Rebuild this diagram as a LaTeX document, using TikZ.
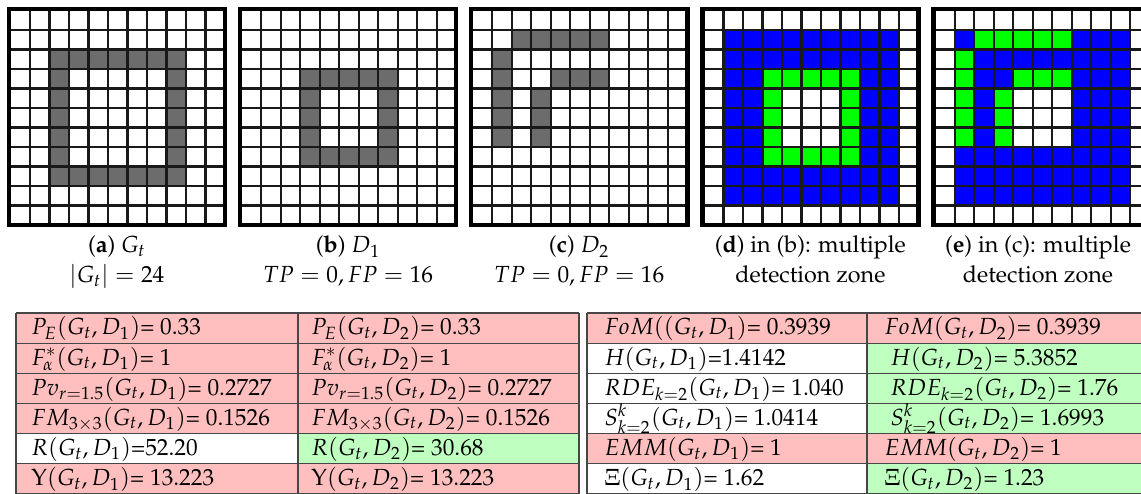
\documentclass[tikz,border=0pt]{standalone}
\usepackage[T1]{fontenc}
\usepackage{mathpazo}
\definecolor{gcell}{RGB}{108,108,108}
\definecolor{pinkc}{RGB}{255,191,191}
\definecolor{greenc}{RGB}{191,255,191}
\definecolor{zblue}{RGB}{0,0,255}
\definecolor{zgreen}{RGB}{0,255,0}
\definecolor{tline}{RGB}{70,70,70}
\tikzset{
  cellline/.style={draw=black!90, line width=0.95pt},
  gridborder/.style={draw=black, line width=1.9pt},
  captxt/.style={font=\normalsize, anchor=base, inner sep=0pt},
  tabtxt/.style={anchor=base west, inner sep=0pt},
  tabline/.style={draw=tline, line width=0.5pt},
}
\newcommand{\gfill}[6]{\fill[#6] ({10.5+19.5*(#3)+231.15*(#1)},{10.5+19.5*(#2)}) rectangle ({10.5+19.5*(#5+1)+231.15*(#1)},{10.5+19.5*(#4+1)});}
\newcommand{\rowtop}[1]{313+30.15*(#1)}
\begin{document}
\begin{tikzpicture}[x=0.429pt,y=-0.429pt]
\useasboundingbox (0,0) rectangle (1141,494);
\fill[white] (0,0) rectangle (1141,494);
% grid (a)
\gfill{0}{2}{2}{8}{8}{gcell}
\gfill{0}{3}{3}{7}{7}{white}
% grid (b)
\gfill{1}{3}{3}{7}{7}{gcell}
\gfill{1}{4}{4}{6}{6}{white}
% grid (c)
\gfill{2}{1}{2}{1}{6}{gcell}
\gfill{2}{2}{1}{6}{1}{gcell}
\gfill{2}{3}{4}{3}{6}{gcell}
\gfill{2}{4}{3}{6}{3}{gcell}
% grid (d)
\gfill{3}{1}{1}{9}{9}{zblue}
\gfill{3}{3}{3}{7}{7}{zgreen}
\gfill{3}{4}{4}{6}{6}{white}
% grid (e)
\gfill{4}{1}{1}{9}{9}{zblue}
\gfill{4}{1}{2}{1}{6}{zgreen}
\gfill{4}{2}{1}{6}{1}{zgreen}
\gfill{4}{3}{4}{3}{6}{zgreen}
\gfill{4}{4}{3}{6}{3}{zgreen}
\gfill{4}{4}{4}{6}{6}{white}
% grid lines and borders
\foreach \g in {0,...,4}{
  \pgfmathsetmacro\off{231.15*\g}
  \foreach \k in {1,...,10}{
    \draw[cellline] ({10.5+19.5*\k+\off},10.5) -- ({10.5+19.5*\k+\off},225);
    \draw[cellline] ({10.5+\off},{10.5+19.5*\k}) -- ({225+\off},{10.5+19.5*\k});
  }
  \draw[gridborder] ({8.85+\off},8.85) rectangle ({225+\off},225);
}
% captions
\node[captxt] (capa1) at (116.9,253) {(\textbf{a}) $G_t$};
\node[captxt] (capa2) at (116.9,283) {$|G_t| = 24$};
\node[captxt] (capb1) at (348.05,253) {(\textbf{b}) $D_1$};
\node[captxt] (capb2) at (348.05,283) {$TP = 0, FP = 16$};
\node[captxt] (capc1) at (579.2,253) {(\textbf{c}) $D_2$};
\node[captxt] (capc2) at (579.2,283) {$TP = 0, FP = 16$};
\node[captxt] (capd1) at (810.35,253) {(\textbf{d}) in (b): multiple};
\node[captxt] (capd2) at (810.35,283) {detection zone};
\node[captxt] (cape1) at (1038,253) {(\textbf{e}) in (c): multiple};
\node[captxt] (cape2) at (1038,283) {detection zone};
% table cell fills
\foreach \r/\la/\lb/\ra/\rb in {0/pinkc/pinkc/pinkc/pinkc, 1/pinkc/pinkc/white/greenc, 2/pinkc/pinkc/white/greenc, 3/pinkc/pinkc/white/greenc, 4/white/greenc/pinkc/pinkc, 5/pinkc/pinkc/white/greenc}{
  \fill[\la] (16,{\rowtop{\r}}) rectangle (298,{\rowtop{\r+1}});
  \fill[\lb] (298,{\rowtop{\r}}) rectangle (579,{\rowtop{\r+1}});
  \fill[\ra] (587,{\rowtop{\r}}) rectangle (867,{\rowtop{\r+1}});
  \fill[\rb] (867,{\rowtop{\r}}) rectangle (1150,{\rowtop{\r+1}});
}
% table lines
\foreach \r in {0,...,6}{
  \draw[tabline] (16,{\rowtop{\r}}) -- (579,{\rowtop{\r}});
  \draw[tabline] (587,{\rowtop{\r}}) -- (1150,{\rowtop{\r}});
}
\foreach \xx in {16,298,579,587,867}{
  \draw[tabline] (\xx,{\rowtop{0}}) -- (\xx,{\rowtop{6}});
}
% table texts
\node[tabtxt] (l11) at (31,{\rowtop{0}+22}) {$P_E(G_t, D_1)$= 0.33};
\node[tabtxt] (l12) at (311,{\rowtop{0}+22}) {$P_E(G_t, D_2)$= 0.33};
\node[tabtxt] (l21) at (31,{\rowtop{1}+22}) {$F^*_\alpha(G_t, D_1)$= 1};
\node[tabtxt] (l22) at (311,{\rowtop{1}+22}) {$F^*_\alpha(G_t, D_2)$= 1};
\node[tabtxt] (l31) at (31,{\rowtop{2}+22}) {$Pv_{r=1.5}(G_t, D_1)$= 0.2727};
\node[tabtxt] (l32) at (311,{\rowtop{2}+22}) {$Pv_{r=1.5}(G_t, D_2)$= 0.2727};
\node[tabtxt] (l41) at (31,{\rowtop{3}+22}) {$FM_{3\times 3}(G_t, D_1)$= 0.1526};
\node[tabtxt] (l42) at (311,{\rowtop{3}+22}) {$FM_{3\times 3}(G_t, D_2)$= 0.1526};
\node[tabtxt] (l51) at (31,{\rowtop{4}+22}) {$R(G_t, D_1)$=52.20};
\node[tabtxt] (l52) at (311,{\rowtop{4}+22}) {$R(G_t, D_2)$= 30.68};
\node[tabtxt] (l61) at (31,{\rowtop{5}+22}) {$\mathrm{Y}(G_t, D_1)$= 13.223};
\node[tabtxt] (l62) at (311,{\rowtop{5}+22}) {$\mathrm{Y}(G_t, D_2)$= 13.223};
\node[tabtxt] (r11) at (604,{\rowtop{0}+22}) {$FoM((G_t, D_1)$= 0.3939};
\node[tabtxt] (r12) at (884,{\rowtop{0}+22}) {$FoM(G_t, D_2)$= 0.3939};
\node[tabtxt] (r21) at (604,{\rowtop{1}+22}) {$H(G_t, D_1)$=1.4142};
\node[tabtxt] (r22) at (890,{\rowtop{1}+22}) {$H(G_t, D_2)$= 5.3852};
\node[tabtxt] (r31) at (604,{\rowtop{2}+22}) {$RDE_{k=2}(G_t, D_1)$= 1.040};
\node[tabtxt] (r32) at (890,{\rowtop{2}+22}) {$RDE_{k=2}(G_t, D_2)$= 1.76};
\node[tabtxt] (r41) at (604,{\rowtop{3}+22}) {$S^k_{k=2}(G_t, D_1)$= 1.0414};
\node[tabtxt] (r42) at (890,{\rowtop{3}+22}) {$S^k_{k=2}(G_t, D_2)$= 1.6993};
\node[tabtxt] (r51) at (604,{\rowtop{4}+22}) {$EMM(G_t, D_1)$= 1};
\node[tabtxt] (r52) at (884,{\rowtop{4}+22}) {$EMM(G_t, D_2)$= 1};
\node[tabtxt] (r61) at (604,{\rowtop{5}+22}) {$\Xi(G_t, D_1)$= 1.62};
\node[tabtxt] (r62) at (884,{\rowtop{5}+22}) {$\Xi(G_t, D_2)$= 1.23};
\end{tikzpicture}
\end{document}
